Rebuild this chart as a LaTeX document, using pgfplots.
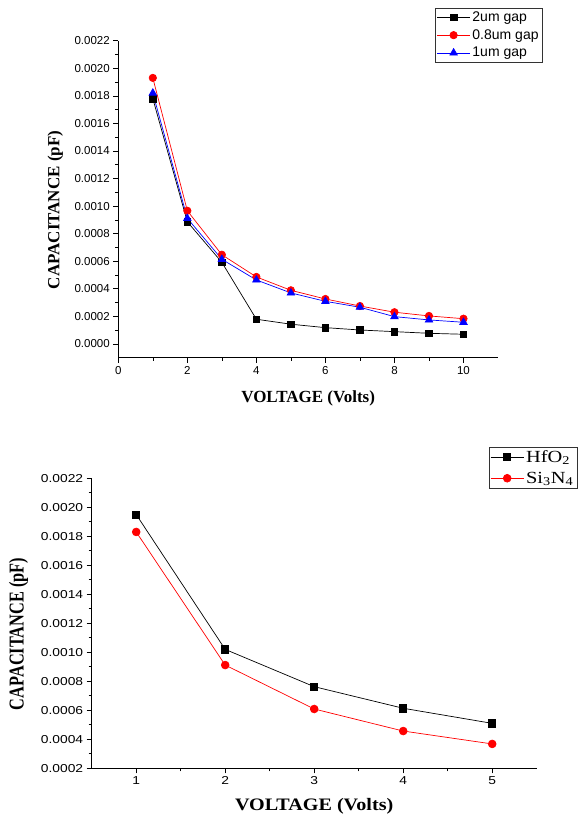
\documentclass[border=0pt]{standalone}
\usepackage{pgfplots}
\pgfplotsset{compat=1.18}
\usepackage{fontspec}
\setmainfont{Liberation Serif}
\newfontfamily\arial{Liberation Sans}

\pgfplotsset{
  common/.style={
    scale only axis,
    axis lines*=left,
    tick align=outside,
    major tick length=5pt, minor tick length=3pt,
    tick style={black, line width=0.6pt},
    axis line style={black, line width=0.8pt},
    scaled y ticks=false,
    /pgf/number format/assume math mode=true,
    legend cell align=left,
    legend image code/.code={\draw[mark repeat=2,mark phase=2] plot coordinates {(0cm,0cm) (0.58cm,0cm) (1.16cm,0cm)};},
  },
}

\begin{document}
\begin{tikzpicture}
\path[use as bounding box] (0pt,0pt) rectangle (578pt,819pt);

% ---------------- top chart ----------------
\begin{axis}[common,
  at={(118.3pt,461.3pt)}, anchor=south west,
  width=379.7pt, height=317pt,
  xmin=0, xmax=11, ymin=-0.0001, ymax=0.0022,
  xtick={0,2,4,6,8,10}, minor x tick num=1,
  ytick={0,0.0002,0.0004,0.0006,0.0008,0.0010,0.0012,0.0014,0.0016,0.0018,0.0020,0.0022},
  minor y tick num=1,
  yticklabel={\pgfmathprintnumber[fixed,fixed zerofill,precision=4]{\tick}},
  xticklabel={\pgfmathprintnumber{\tick}},
  ticklabel style={font=\arial\fontsize{11.5}{13}\selectfont},
  xlabel={VOLTAGE (Volts)}, ylabel={CAPACITANCE (pF)},
  label style={font=\bfseries\fontsize{17}{20}\selectfont},
  xlabel style={at={(axis description cs:0.5,-0.129)}, anchor=center},
  ylabel style={at={(axis description cs:-0.166,0.466)}, anchor=center},
  legend style={at={(axis description cs:1.1167,1.103)}, anchor=north east,
    font=\arial\fontsize{14}{15}\selectfont, draw=black!80,
    inner sep=1.5pt, row sep=2.5pt},
]
\addplot[black, line width=0.7pt, mark=square*, mark size=3.3pt] coordinates {
(1,0.00178)(2,0.000886)(3,0.000592)(4,0.000179)(5,0.000143)(6,0.000118)(7,0.000101)(8,0.000089)(9,0.000077)(10,0.00007)};
\addlegendentry{2um gap}
\addplot[red, line width=0.7pt, mark=*, mark size=3.7pt] coordinates {
(1,0.00193)(2,0.000966)(3,0.000647)(4,0.000486)(5,0.000389)(6,0.000326)(7,0.000275)(8,0.00023)(9,0.000203)(10,0.000183)};
\addlegendentry{0.8um gap}
\addplot[blue, line width=0.7pt, mark=triangle*, mark size=4.3pt] coordinates {
(1,0.00182)(2,0.000911)(3,0.000614)(4,0.000464)(5,0.00037)(6,0.000309)(7,0.000266)(8,0.000198)(9,0.000174)(10,0.000157)};
\addlegendentry{1um gap}
\end{axis}

% ---------------- bottom chart ----------------
\begin{axis}[common,
  at={(91.7pt,50.7pt)}, anchor=south west,
  width=445pt, height=290pt,
  xmin=0.5, xmax=5.5, ymin=0.0002, ymax=0.0022,
  xtick={1,2,3,4,5}, minor x tick num=1,
  ytick={0.0002,0.0004,0.0006,0.0008,0.0010,0.0012,0.0014,0.0016,0.0018,0.0020,0.0022},
  minor y tick num=1,
  yticklabel={\scalebox{1.2}[1]{\pgfmathprintnumber[fixed,fixed zerofill,precision=4]{\tick}}},
  xticklabel={\scalebox{1.2}[1]{\pgfmathprintnumber{\tick}}},
  ticklabel style={font=\arial\fontsize{11.5}{13}\selectfont},
  xlabel={\scalebox{1.15}[1]{VOLTAGE (Volts)}},
  ylabel={\scalebox{1}[1.3]{CAPACITANCE (pF)}},
  xlabel style={font=\bfseries\fontsize{17.5}{20}\selectfont, at={(axis description cs:0.5,-0.131)}, anchor=center},
  ylabel style={font=\bfseries\fontsize{16.3}{18}\selectfont, at={(axis description cs:-0.1645,0.463)}, anchor=center},
  legend style={at={(axis description cs:1.0905,1.109)}, anchor=north east,
    font=\fontsize{17}{18}\selectfont, draw=black!80,
    inner sep=1.5pt, row sep=4pt},
]
\addplot[black, line width=0.7pt, mark=square*, mark size=3.6pt] coordinates {
(1,0.00195)(2,0.00102)(3,0.000763)(4,0.000614)(5,0.00051)};
\addlegendentry{\scalebox{1.2}[1]{HfO\textsubscript{2}}}
\addplot[red, line width=0.7pt, mark=*, mark size=3.9pt] coordinates {
(1,0.00183)(2,0.000912)(3,0.000609)(4,0.000457)(5,0.000368)};
\addlegendentry{\scalebox{1.2}[1]{Si\textsubscript{3}N\textsubscript{4}}}
\end{axis}
\end{tikzpicture}
\end{document}
